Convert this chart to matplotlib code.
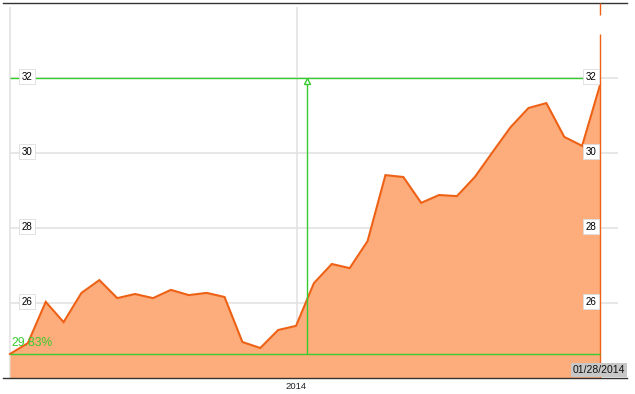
import numpy as np
import pandas as pd
import matplotlib
matplotlib.use("Agg")
import matplotlib.pyplot as plt

plt.rcParams["font.family"] = ["Liberation Sans", "DejaVu Sans"]

# trading days, 2013-12-09 .. 2014-01-28
dates = ["2013-12-09", "2013-12-10", "2013-12-11", "2013-12-12", "2013-12-13",
         "2013-12-16", "2013-12-17", "2013-12-18", "2013-12-19", "2013-12-20",
         "2013-12-23", "2013-12-24", "2013-12-26", "2013-12-27", "2013-12-30",
         "2013-12-31", "2014-01-02", "2014-01-03", "2014-01-06", "2014-01-07",
         "2014-01-08", "2014-01-09", "2014-01-10", "2014-01-13", "2014-01-14",
         "2014-01-15", "2014-01-16", "2014-01-17", "2014-01-21", "2014-01-22",
         "2014-01-23", "2014-01-24", "2014-01-27", "2014-01-28"]
values = [24.64, 24.93, 26.03, 25.49, 26.27, 26.61, 26.13, 26.24, 26.13, 26.35,
          26.21, 26.27, 26.16, 24.96, 24.80, 25.28, 25.39, 26.53, 27.04, 26.93,
          27.65, 29.41, 29.36, 28.67, 28.88, 28.85, 29.36, 30.03, 30.69, 31.20,
          31.33, 30.43, 30.19, 31.81]
yticks = [26, 28, 30, 32]
year_label = "2014"
pct_label = "29.83%"
cross_x = 16.6      # crosshair position (between Jan 2 and Jan 3)
cross_y = 32.0
base_y = 24.64

dt = pd.to_datetime(dates)
x = np.arange(len(values))
year_idx = int(np.argmax(dt.year == 2014))

ORANGE = "#ee6115"
FILL = "#fdac7b"
GREEN = "#36cc2e"
GRID = "#e3e3e3"

fig = plt.figure(figsize=(6.35, 3.94), dpi=100)
ax = fig.add_axes([3 / 635, 1 - 378 / 394, 624 / 635, 375 / 394])
ax.set_xlim(-0.39, 34.51)
ax.set_ylim(24, 34)

for s in ["left", "right"]:
    ax.spines[s].set_visible(False)
for s in ["top", "bottom"]:
    ax.spines[s].set_color("#333333")
    ax.spines[s].set_linewidth(1.0)
ax.set_yticks([])
ax.set_xticks([year_idx])
ax.set_xticklabels([year_label], fontsize=6.8, color="#222222")
ax.tick_params(axis="x", length=0, pad=3)

# grid
ax.hlines(yticks, 0, 34.0, color=GRID, lw=1.2, zorder=0)
ax.vlines([0, year_idx + 0.05], 24, 33.9, color=GRID, lw=1.2, zorder=0)

# area
ax.fill_between(x, values, 24, color=FILL, lw=0, zorder=1)
ax.plot(x, values, color=ORANGE, lw=1.5, zorder=3, solid_joinstyle="miter")
ax.vlines(x[-1], 24, 33.17, color=ORANGE, lw=1.0, zorder=3)
ax.vlines(x[-1], 33.68, 34, color=ORANGE, lw=1.0, zorder=3)

# crosshair
ax.hlines(cross_y, 0, x[-1] - 0.5, color=GREEN, lw=1.0, zorder=4)
ax.hlines(base_y, 0, x[-1], color=GREEN, lw=1.0, zorder=4)
ax.vlines(cross_x, base_y, cross_y, color=GREEN, lw=1.0, zorder=4)
ax.plot([cross_x], [cross_y - 0.07], marker="^", ms=5, mfc="white", mec=GREEN,
        mew=1.0, zorder=5)
ax.text(0.1, base_y + 0.12, pct_label, color=GREEN, fontsize=8.7,
        ha="left", va="bottom", zorder=6)

# y labels, both sides
box = dict(boxstyle="square,pad=0.25", fc="white", ec="#dddddd", lw=0.6)
for v in yticks:
    ax.text(0.95, v + 0.03, str(v), fontsize=7, ha="center", va="center",
            bbox=box, zorder=6)
    ax.text(32.5, v + 0.03, str(v), fontsize=7, ha="center", va="center",
            bbox=box, zorder=6)

# last date label
fig.text(625 / 635, 1 - 370 / 394, dt[-1].strftime("%m/%d/%Y"), fontsize=7.5,
         ha="right", va="center", color="#111111",
         bbox=dict(boxstyle="square,pad=0.2", fc="#c8c8c8", ec="none"))

fig.savefig("out.png", dpi=100)
